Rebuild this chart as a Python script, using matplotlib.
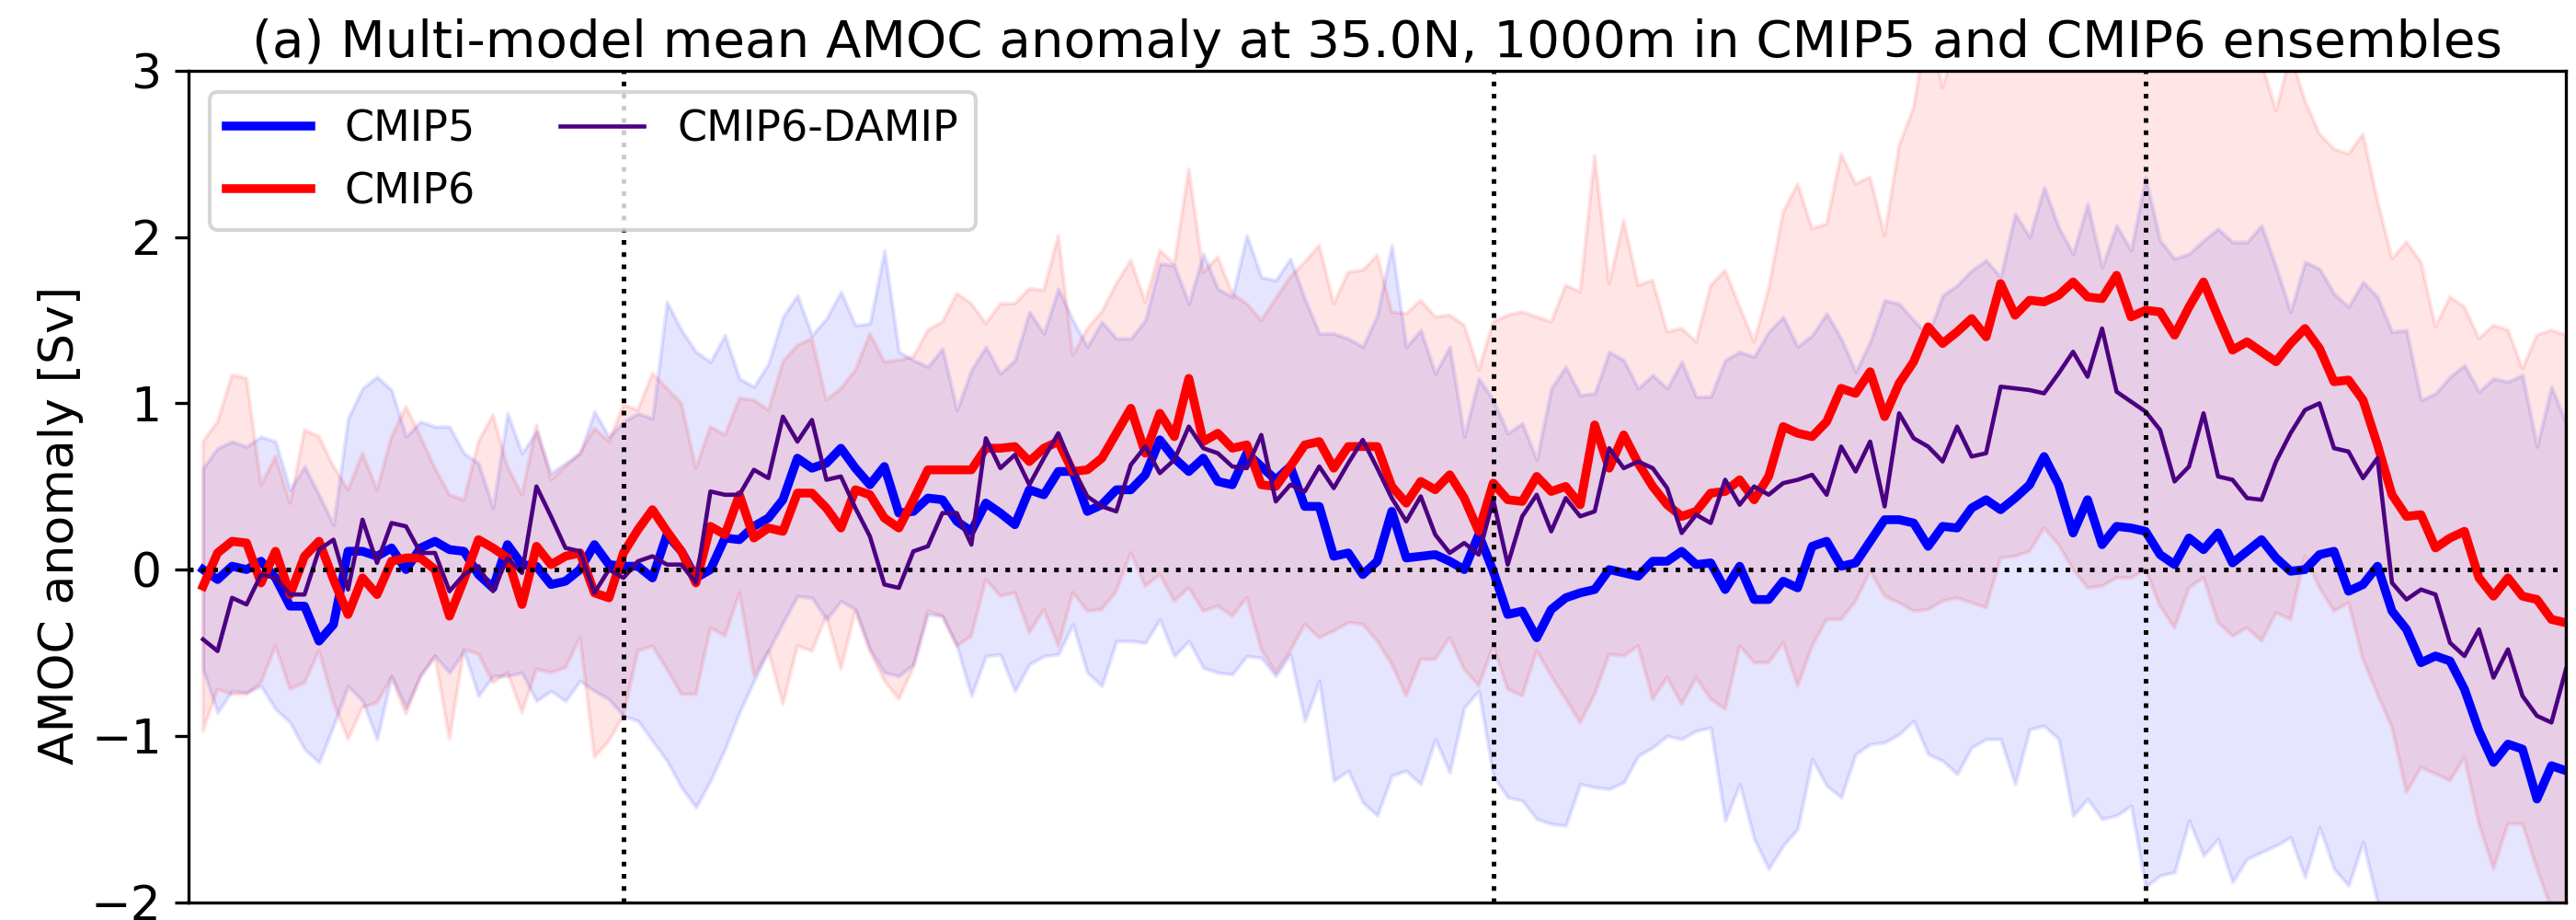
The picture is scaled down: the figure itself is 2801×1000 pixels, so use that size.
import numpy as np
import matplotlib
matplotlib.use('Agg')
from matplotlib import pyplot as plt

# annual values, 1851-2014
years = np.arange(1851, 2015)

# multi-model mean AMOC anomaly [Sv]
cmip5_mean = [0.0, -0.06, 0.02, 0.0, 0.05, -0.05, -0.22, -0.22, -0.43, -0.33, 0.11, 0.11, 0.08, 0.13, 0.0, 0.13, 0.17, 0.12, 0.11, -0.03, -0.11, 0.15, 0.03, 0.02, -0.09, -0.07, 0.0, 0.15, 0.03, 0.02, 0.02, -0.05, 0.21,
              0.11, -0.05, 0.0, 0.19, 0.18, 0.26, 0.31, 0.42, 0.67, 0.61, 0.64, 0.73, 0.61, 0.51, 0.62, 0.34, 0.35, 0.43, 0.42, 0.29, 0.23, 0.40, 0.34, 0.27, 0.48, 0.45, 0.59, 0.59, 0.35, 0.39, 0.48, 0.48, 0.57,
              0.78, 0.67, 0.59, 0.67, 0.53, 0.51, 0.70, 0.62, 0.54, 0.62, 0.38, 0.38, 0.08, 0.10, -0.03, 0.05, 0.35, 0.07, 0.08, 0.09, 0.05, 0.0, 0.21, -0.01, -0.27, -0.25, -0.41, -0.24, -0.17, -0.14, -0.12, 0.0, -0.02,
              -0.04, 0.05, 0.05, 0.11, 0.03, 0.04, -0.12, 0.02, -0.18, -0.18, -0.07, -0.11, 0.14, 0.17, 0.02, 0.04, 0.17, 0.30, 0.30, 0.28, 0.14, 0.26, 0.25, 0.37, 0.42, 0.36, 0.43, 0.51, 0.68, 0.51, 0.22, 0.42, 0.15,
              0.26, 0.25, 0.23, 0.09, 0.03, 0.19, 0.12, 0.22, 0.04, 0.11, 0.18, 0.07, -0.01, 0.0, 0.09, 0.11, -0.13, -0.09, 0.02, -0.25, -0.36, -0.56, -0.52, -0.55, -0.72, -0.97, -1.16, -1.05, -1.08, -1.38, -1.18, -1.21]

cmip6_mean = [-0.10, 0.10, 0.17, 0.16, -0.08, 0.11, -0.15, 0.08, 0.17, -0.06, -0.27, -0.05, -0.15, 0.05, 0.07, 0.07, 0.0, -0.28, -0.06, 0.18, 0.13, 0.07, -0.21, 0.14, 0.03, 0.08, 0.10, -0.14, -0.17, 0.10, 0.24, 0.36, 0.23,
              0.11, -0.08, 0.26, 0.21, 0.45, 0.19, 0.25, 0.23, 0.46, 0.46, 0.37, 0.25, 0.48, 0.45, 0.31, 0.25, 0.42, 0.60, 0.60, 0.60, 0.60, 0.73, 0.73, 0.74, 0.65, 0.73, 0.77, 0.59, 0.60, 0.67, 0.82, 0.97, 0.70,
              0.94, 0.80, 1.15, 0.77, 0.82, 0.73, 0.75, 0.51, 0.50, 0.62, 0.75, 0.77, 0.61, 0.74, 0.74, 0.74, 0.50, 0.40, 0.53, 0.48, 0.57, 0.43, 0.23, 0.52, 0.42, 0.41, 0.56, 0.47, 0.50, 0.39, 0.87, 0.61, 0.81,
              0.64, 0.50, 0.39, 0.32, 0.35, 0.46, 0.47, 0.54, 0.42, 0.56, 0.86, 0.82, 0.80, 0.89, 1.09, 1.06, 1.19, 0.92, 1.12, 1.25, 1.46, 1.36, 1.43, 1.51, 1.40, 1.72, 1.53, 1.62, 1.61, 1.65, 1.73, 1.64, 1.63,
              1.77, 1.52, 1.56, 1.55, 1.41, 1.58, 1.73, 1.52, 1.32, 1.37, 1.31, 1.25, 1.36, 1.45, 1.33, 1.13, 1.14, 1.02, 0.75, 0.45, 0.32, 0.33, 0.13, 0.19, 0.23, -0.05, -0.16, -0.05, -0.16, -0.18, -0.30, -0.32]

damip_mean = [-0.42, -0.49, -0.17, -0.21, -0.03, -0.05, -0.15, -0.15, 0.12, 0.18, -0.12, 0.30, 0.04, 0.28, 0.26, 0.10, 0.10, -0.13, -0.03, 0.02, -0.13, 0.07, -0.02, 0.50, 0.32, 0.13, 0.11, -0.14, 0.0, -0.05, 0.05, 0.08, 0.03,
              0.03, -0.08, 0.47, 0.45, 0.45, 0.60, 0.55, 0.92, 0.77, 0.90, 0.54, 0.56, 0.37, 0.20, -0.09, -0.11, 0.11, 0.14, 0.34, 0.34, 0.15, 0.79, 0.61, 0.69, 0.51, 0.67, 0.82, 0.61, 0.44, 0.38, 0.35, 0.63, 0.74,
              0.58, 0.66, 0.86, 0.73, 0.70, 0.62, 0.61, 0.81, 0.41, 0.51, 0.47, 0.62, 0.49, 0.64, 0.78, 0.61, 0.43, 0.29, 0.44, 0.21, 0.10, 0.16, 0.09, 0.42, 0.03, 0.32, 0.45, 0.23, 0.43, 0.32, 0.35, 0.73, 0.61,
              0.65, 0.61, 0.49, 0.22, 0.33, 0.28, 0.54, 0.39, 0.50, 0.45, 0.52, 0.54, 0.57, 0.45, 0.74, 0.59, 0.77, 0.38, 0.94, 0.79, 0.74, 0.65, 0.86, 0.68, 0.70, 1.10, 1.09, 1.08, 1.06, 1.18, 1.31, 1.16, 1.45,
              1.07, 1.01, 0.95, 0.84, 0.53, 0.62, 0.94, 0.56, 0.54, 0.43, 0.42, 0.65, 0.82, 0.96, 1.00, 0.73, 0.71, 0.55, 0.67, -0.08, -0.18, -0.12, -0.15, -0.44, -0.52, -0.36, -0.65, -0.48, -0.76, -0.88, -0.92, -0.60]

# ensemble spread
cmip5_upper = [0.61, 0.73, 0.77, 0.74, 0.80, 0.77, 0.48, 0.62, 0.45, 0.27, 0.91, 1.09, 1.16, 1.08, 0.80, 0.89, 0.86, 0.86, 0.70, 0.64, 0.37, 0.94, 0.70, 0.83, 0.58, 0.64, 0.70, 0.95, 0.80, 0.89, 0.94, 0.91, 1.61,
               1.44, 1.31, 1.25, 1.41, 1.15, 1.10, 1.24, 1.52, 1.65, 1.41, 1.51, 1.67, 1.47, 1.48, 1.92, 1.31, 1.26, 1.22, 1.33, 0.96, 1.20, 1.34, 1.18, 1.26, 1.55, 1.42, 1.69, 1.50, 1.34, 1.49, 1.39, 1.39, 1.50,
               1.84, 1.83, 1.60, 1.90, 1.69, 1.64, 2.01, 1.76, 1.74, 1.87, 1.63, 1.42, 1.42, 1.39, 1.34, 1.53, 1.95, 1.34, 1.44, 1.18, 1.34, 0.80, 1.15, 1.02, 0.82, 0.88, 0.66, 1.09, 1.22, 1.05, 1.06, 1.31, 1.26,
               1.09, 1.17, 1.09, 1.25, 1.04, 1.04, 1.26, 1.31, 1.28, 1.43, 1.52, 1.34, 1.41, 1.54, 1.39, 1.19, 1.37, 1.62, 1.60, 1.50, 1.41, 1.65, 1.71, 1.80, 1.86, 1.76, 2.14, 2.00, 2.30, 2.06, 1.90, 2.20, 1.82,
               2.07, 1.92, 2.36, 1.98, 1.87, 1.90, 1.98, 2.05, 1.97, 1.97, 2.07, 1.82, 1.55, 1.85, 1.81, 1.66, 1.58, 1.73, 1.64, 1.43, 1.44, 1.02, 1.06, 1.16, 1.23, 1.07, 1.15, 1.13, 1.17, 0.74, 1.10, 0.88]

cmip5_lower = [-0.60, -0.86, -0.73, -0.74, -0.70, -0.84, -0.92, -1.08, -1.16, -0.94, -0.70, -0.79, -1.02, -0.64, -0.83, -0.64, -0.52, -0.62, -0.49, -0.76, -0.64, -0.64, -0.62, -0.79, -0.73, -0.79, -0.67, -0.73, -0.78, -0.88, -0.91, -1.03, -1.15,
               -1.31, -1.43, -1.27, -1.08, -0.86, -0.67, -0.49, -0.32, -0.16, -0.17, -0.30, -0.19, -0.24, -0.48, -0.62, -0.64, -0.57, -0.27, -0.28, -0.46, -0.76, -0.52, -0.51, -0.73, -0.57, -0.52, -0.51, -0.33, -0.62, -0.70, -0.43, -0.43, -0.44,
               -0.30, -0.52, -0.43, -0.59, -0.62, -0.63, -0.52, -0.53, -0.64, -0.51, -0.91, -0.67, -1.27, -1.21, -1.40, -1.48, -1.24, -1.21, -1.29, -1.02, -1.22, -0.83, -0.73, -1.24, -1.37, -1.39, -1.50, -1.53, -1.54, -1.29, -1.31, -1.32, -1.28,
               -1.12, -1.07, -1.00, -1.02, -0.97, -0.95, -1.51, -1.29, -1.62, -1.80, -1.66, -1.56, -1.14, -1.30, -1.37, -1.11, -1.05, -1.04, -0.99, -0.91, -1.11, -1.15, -1.23, -1.07, -1.02, -1.02, -1.29, -0.96, -0.94, -1.02, -1.48, -1.38, -1.50,
               -1.48, -1.42, -1.91, -1.84, -1.82, -1.51, -1.72, -1.62, -1.88, -1.74, -1.70, -1.66, -1.61, -1.85, -1.55, -1.80, -1.90, -1.64, -2.0, -2.15, -2.25, -2.3, -2.4, -2.3, -2.45, -2.5, -2.6, -2.55, -2.7, -2.8, -2.75, -2.9]

cmip6_upper = [0.77, 0.89, 1.17, 1.15, 0.51, 0.68, 0.40, 0.84, 0.80, 0.62, 0.48, 0.70, 0.48, 0.80, 0.98, 0.80, 0.61, 0.45, 0.42, 0.77, 0.93, 0.62, 0.45, 0.87, 0.54, 0.62, 0.70, 0.85, 0.77, 0.99, 0.96, 1.18, 1.09,
               1.00, 0.61, 0.86, 0.81, 1.03, 1.02, 0.96, 1.25, 1.35, 1.39, 1.02, 1.09, 1.20, 1.42, 1.25, 1.26, 1.28, 1.44, 1.49, 1.66, 1.60, 1.48, 1.60, 1.60, 1.69, 1.68, 2.01, 1.29, 1.45, 1.55, 1.72, 1.86, 1.61,
               1.92, 1.84, 2.41, 1.79, 1.88, 1.66, 1.60, 1.50, 1.63, 1.76, 1.85, 1.95, 1.60, 1.79, 1.80, 1.89, 1.55, 1.54, 1.62, 1.52, 1.53, 1.47, 1.20, 1.49, 1.53, 1.55, 1.52, 1.49, 1.71, 1.67, 2.49, 1.72, 2.10,
               1.71, 1.74, 1.43, 1.45, 1.37, 1.71, 1.80, 1.58, 1.37, 1.69, 2.15, 2.32, 2.05, 2.08, 2.50, 2.32, 2.36, 2.01, 2.55, 2.78, 3.3, 2.9, 3.2, 3.4, 3.3, 3.5, 3.4, 3.3, 3.5, 3.4, 3.4, 3.6, 3.5,
               3.4, 3.5, 3.6, 3.4, 3.3, 3.5, 3.4, 3.3, 3.2, 3.1, 3.05, 2.76, 3.1, 2.82, 2.62, 2.53, 2.50, 2.62, 2.22, 1.87, 1.97, 1.85, 1.46, 1.64, 1.58, 1.39, 1.47, 1.44, 1.21, 1.41, 1.44, 1.41]

cmip6_lower = [-0.97, -0.72, -0.75, -0.75, -0.68, -0.46, -0.72, -0.68, -0.49, -0.80, -1.02, -0.83, -0.80, -0.65, -0.87, -0.64, -0.52, -1.02, -0.48, -0.51, -0.68, -0.62, -0.86, -0.60, -0.62, -0.59, -0.41, -1.13, -1.03, -0.88, -0.49, -0.46, -0.60,
               -0.75, -0.75, -0.35, -0.40, -0.14, -0.64, -0.49, -0.81, -0.46, -0.49, -0.28, -0.60, -0.25, -0.49, -0.67, -0.78, -0.59, -0.25, -0.28, -0.46, -0.40, -0.06, -0.16, -0.14, -0.38, -0.24, -0.46, -0.14, -0.25, -0.24, -0.13, 0.10, -0.10,
               -0.03, -0.19, -0.11, -0.25, -0.22, -0.28, -0.17, -0.48, -0.62, -0.49, -0.33, -0.41, -0.37, -0.32, -0.33, -0.43, -0.57, -0.76, -0.54, -0.54, -0.41, -0.60, -0.70, -0.46, -0.72, -0.76, -0.49, -0.64, -0.78, -0.92, -0.75, -0.51, -0.52,
               -0.46, -0.78, -0.65, -0.81, -0.65, -0.78, -0.84, -0.46, -0.56, -0.56, -0.44, -0.70, -0.46, -0.30, -0.30, -0.19, -0.01, -0.16, -0.20, -0.25, -0.24, -0.19, -0.17, -0.20, -0.23, 0.07, 0.08, 0.11, 0.25, 0.15, 0.0, -0.11, -0.10,
               -0.05, -0.05, 0.0, -0.22, -0.35, -0.11, -0.05, -0.32, -0.40, -0.35, -0.43, -0.26, -0.30, 0.08, -0.11, -0.25, -0.20, -0.54, -0.75, -0.95, -1.34, -1.19, -1.23, -1.27, -1.13, -1.53, -1.80, -1.53, -1.53, -1.80, -2.04, -2.17]

# reference years marked with vertical lines
marker_years = [1880, 1940, 1985]

fig = plt.figure(figsize=(2801 / 300, 1000 / 300), dpi=300)
ax = fig.add_axes([0.0732, 0.0195, 0.9229, 0.9035])

ax.fill_between(years, cmip5_lower, cmip5_upper, color='blue', alpha=0.1)
ax.fill_between(years, cmip6_lower, cmip6_upper, color='red', alpha=0.1)

ax.plot(years, cmip5_mean, color='blue', linewidth=2.3, label='CMIP5')
ax.plot(years, cmip6_mean, color='red', linewidth=2.3, label='CMIP6')
ax.plot(years, damip_mean, color='indigo', linewidth=1.1, label='CMIP6-DAMIP')

ax.axhline(0, color='black', linestyle=':', linewidth=1.2)
for yr in marker_years:
    ax.axvline(yr, color='black', linestyle=':', linewidth=1.2)

ax.set_xlim(1850, 2014)
ax.set_ylim(-2, 3)
ax.set_xticks([])
ax.set_yticks([-2, -1, 0, 1, 2, 3])
ax.tick_params(axis='y', labelsize=12.5)
ax.set_ylabel('AMOC anomaly [Sv]', fontsize=12.5)
ax.yaxis.set_label_coords(-0.044, 0.453)
ax.set_title('(a) Multi-model mean AMOC anomaly at 35.0N, 1000m in CMIP5 and CMIP6 ensembles',
             fontsize=13.5, pad=3.5)
ax.legend(loc='upper left', ncol=2, fontsize=11)

fig.savefig('out.png', dpi=300)
